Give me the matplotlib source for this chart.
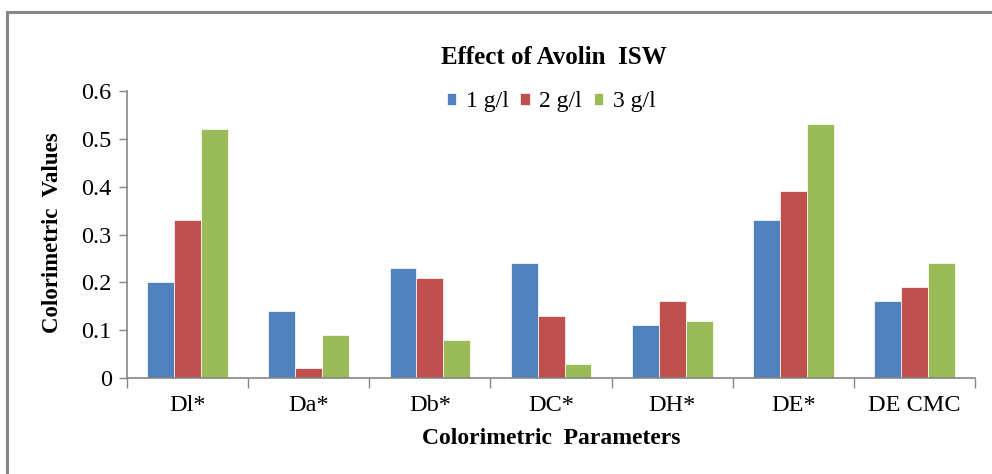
import numpy as np
import matplotlib
matplotlib.use("Agg")
import matplotlib.pyplot as plt
from matplotlib.patches import Rectangle

plt.rcParams['font.family'] = ['Liberation Serif', 'DejaVu Serif']

# data
categories = ['Dl*', 'Da*', 'Db*', 'DC*', 'DH*', 'DE*', 'DE CMC']
series_names = ['1 g/l', '2 g/l', '3 g/l']
vals_1 = [0.20, 0.14, 0.23, 0.24, 0.11, 0.33, 0.16]
vals_2 = [0.33, 0.02, 0.21, 0.13, 0.16, 0.39, 0.19]
vals_3 = [0.52, 0.09, 0.08, 0.03, 0.12, 0.53, 0.24]
colors = ['#4F81BD', '#C0504D', '#9BBB59']
yticks = [0, 0.1, 0.2, 0.3, 0.4, 0.5, 0.6]
ytick_labels = ['0', '0.1', '0.2', '0.3', '0.4', '0.5', '0.6']

fig = plt.figure(figsize=(9.92, 4.74), dpi=100)
ax = fig.add_axes([0.128, 0.2025, 0.855, 0.6055])

# outer chart border (cut off on right/bottom like the screenshot)
fig.patches.append(Rectangle((7 / 992, -0.1), 1.2, 1 - 12 / 474 + 0.1,
                             transform=fig.transFigure, fill=False,
                             edgecolor='#878787', linewidth=2.2))

x = np.arange(len(categories))
w = 1 / 4.5
for i, (vals, name) in enumerate(zip([vals_1, vals_2, vals_3], series_names)):
    ax.bar(x + (i - 1) * w, vals, width=w, color=colors[i], label=name,
           edgecolor='white', linewidth=0.5, zorder=2)

ax.set_xlim(-0.5, len(categories) - 0.5)
ax.set_ylim(0, 0.6)
ax.set_yticks(yticks)
ax.set_yticklabels(ytick_labels)
ax.set_xticks(x)
ax.set_xticklabels(categories)
ax.set_xticks(np.arange(len(categories) + 1) - 0.5, minor=True)
ax.tick_params(axis='x', which='major', length=0, labelsize=17.5, pad=12)
ax.tick_params(axis='x', which='minor', length=7, color='#868686', width=1)
ax.tick_params(axis='y', length=6, color='#868686', width=1, labelsize=17.5, pad=5)

for s in ['top', 'right']:
    ax.spines[s].set_visible(False)
for s in ['left', 'bottom']:
    ax.spines[s].set_color('#868686')
    ax.spines[s].set_linewidth(1.2)

fig.text(554 / 992, 1 - 57 / 474, 'Effect of Avolin  ISW', ha='center', va='center',
         fontsize=18, fontweight='bold')
fig.text(551 / 992, 1 - 438 / 474, 'Colorimetric  Parameters', ha='center', va='center',
         fontsize=17, fontweight='bold')
fig.text(53 / 992, 1 - 233 / 474, 'Colorimetric  Values', ha='center', va='center',
         rotation=90, fontsize=16.5, fontweight='bold')

ax.legend(loc='center', bbox_to_anchor=(551 / 992, 1 - 102 / 474),
          bbox_transform=fig.transFigure, ncol=3, frameon=False,
          fontsize=17, handlelength=0.4, handleheight=0.4, handletextpad=0.4,
          columnspacing=0.5)

fig.savefig('out.png', dpi=100)
